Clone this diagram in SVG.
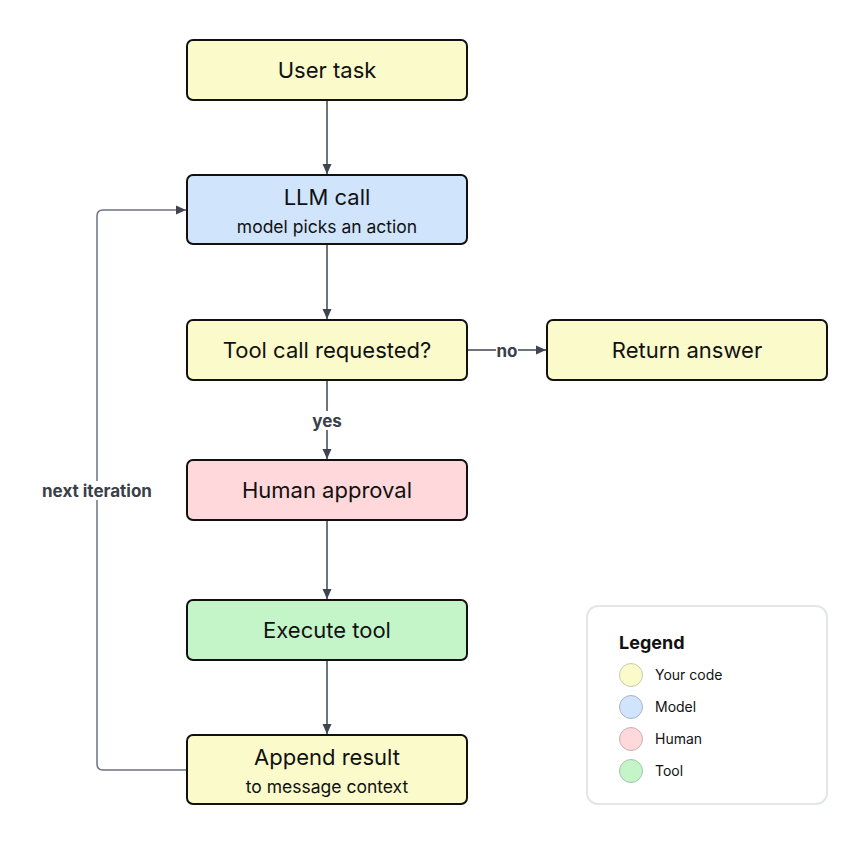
<svg xmlns="http://www.w3.org/2000/svg" width="867" height="845" viewBox="0 0 867 845">
<style>
.node rect{stroke:#111;stroke-width:2}
.yel{fill:#fbfacb}.blu{fill:#d0e4fc}.red{fill:#fed8da}.grn{fill:#c4f5c9}
.t{font-family:Inter,"Liberation Sans",sans-serif;font-size:22px;fill:#111;text-anchor:middle}
.s{font-family:Inter,"Liberation Sans",sans-serif;font-size:17.5px;fill:#111;text-anchor:middle}
.lbl{font-family:Inter,"Liberation Sans",sans-serif;font-size:17px;font-weight:bold;fill:#3a3f4a;text-anchor:middle}
.edge{fill:none;stroke:#3f4450;stroke-width:1.5}
.loop{fill:none;stroke:#6b7280;stroke-width:1.5}
.lg{font-family:Inter,"Liberation Sans",sans-serif;font-size:14px;fill:#111}
</style>
<defs>
<marker id="ah" viewBox="0 0 10 10" refX="10" refY="5" markerWidth="10" markerHeight="10" markerUnits="userSpaceOnUse" orient="auto">
<path d="M0,0.5 L10,5 L0,9.5 Z" fill="#3f4450"/>
</marker>
</defs>
<rect width="867" height="845" fill="#fff"/>
<g id="connectors">
<path class="edge" d="M327,100 V174" marker-end="url(#ah)"/>
<path class="edge" d="M327,244 V319" marker-end="url(#ah)"/>
<path class="edge" d="M467,350 H546" marker-end="url(#ah)"/>
<path class="edge" d="M327,380 V459" marker-end="url(#ah)"/>
<path class="edge" d="M327,520 V599" marker-end="url(#ah)"/>
<path class="edge" d="M327,660 V734" marker-end="url(#ah)"/>
<path class="loop" d="M187,770 H103 Q97,770 97,764 V216 Q97,210 103,210 H186" marker-end="url(#ah)"/>
<rect x="496" y="341" width="22" height="19" fill="#fff"/>
<text class="lbl" x="507" y="356.5">no</text>
<rect x="309" y="411" width="36" height="19" fill="#fff"/>
<text class="lbl" x="327" y="426.5">yes</text>
<rect x="40" y="481" width="114" height="19" fill="#fff"/>
<text class="lbl" x="97" y="496.5">next iteration</text>
</g>
<g id="user_task" class="node"><rect class="yel" x="187" y="40" width="280" height="60" rx="6"/><text class="t" x="327" y="78">User task</text></g>
<g id="llm_call" class="node"><rect class="blu" x="187" y="175" width="280" height="69" rx="6"/><text class="t" x="327" y="205">LLM call</text><text class="s" x="327" y="233">model picks an action</text></g>
<g id="tool_call" class="node"><rect class="yel" x="187" y="320" width="280" height="60" rx="6"/><text class="t" x="327" y="358">Tool call requested?</text></g>
<g id="return_answer" class="node"><rect class="yel" x="547" y="320" width="280" height="60" rx="6"/><text class="t" x="687" y="358">Return answer</text></g>
<g id="human_approval" class="node"><rect class="red" x="187" y="460" width="280" height="60" rx="6"/><text class="t" x="327" y="498">Human approval</text></g>
<g id="execute_tool" class="node"><rect class="grn" x="187" y="600" width="280" height="60" rx="6"/><text class="t" x="327" y="638">Execute tool</text></g>
<g id="append_result" class="node"><rect class="yel" x="187" y="735" width="280" height="69" rx="6"/><text class="t" x="327" y="765">Append result</text><text class="s" x="327" y="793">to message context</text></g>
<g id="legend">
<rect x="587" y="606" width="240" height="198" rx="11" fill="#fff" stroke="#e2e5ea" stroke-width="2"/>
<text x="619" y="649" font-family="Inter,'Liberation Sans',sans-serif" font-size="18" font-weight="bold" fill="#111">Legend</text>
<circle cx="631" cy="675" r="11.5" fill="#fbfacb" stroke="#c9c9b0" stroke-width="1"/>
<text class="lg" x="655" y="680">Your code</text>
<circle cx="631" cy="707" r="11.5" fill="#d0e4fc" stroke="#a9b5c8" stroke-width="1"/>
<text class="lg" x="655" y="712">Model</text>
<circle cx="631" cy="739" r="11.5" fill="#fed8da" stroke="#c8b0b2" stroke-width="1"/>
<text class="lg" x="655" y="744">Human</text>
<circle cx="631" cy="771" r="11.5" fill="#c4f5c9" stroke="#a5c4a8" stroke-width="1"/>
<text class="lg" x="655" y="776">Tool</text>
</g>
</svg>
